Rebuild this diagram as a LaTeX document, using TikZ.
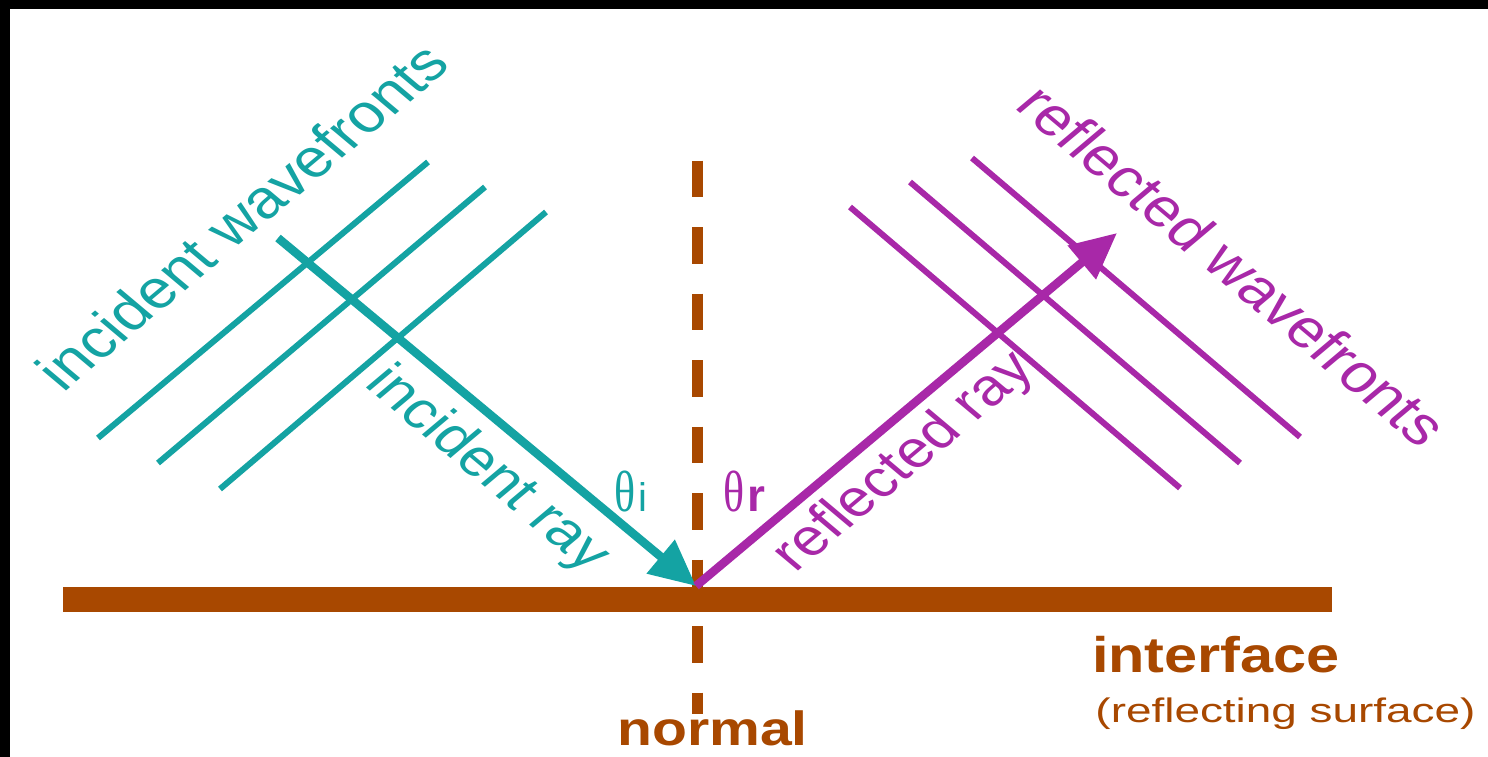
\documentclass[tikz,border=0pt]{standalone}
\usepackage{fontspec}
\setmainfont{Liberation Sans}
\newfontfamily\greekserif{Liberation Serif}
\usetikzlibrary{arrows.meta}
\definecolor{tealc}{RGB}{20,163,163}
\definecolor{purpc}{RGB}{168,40,168}
\definecolor{brnc}{RGB}{168,72,0}
\tikzset{
  lbl/.style={inner sep=0pt, outer sep=0pt, xscale=1.19},
  wave/.style={line width=6pt},
  rayline/.style={line width=8.5pt},
  normalline/.style={line width=11.5pt, brnc, dash pattern=on 36.5pt off 30pt},
  rayhead/.style={-{Triangle[length=46pt,width=42pt]}},
}
\begin{document}
\begin{tikzpicture}[x=1pt,y=-1pt]
\useasboundingbox (0,0) rectangle (1488,757);
\fill[black] (0,0) rectangle (1488,757);
\fill[white] (10,9) rectangle (1488,757);

% normal
\coordinate (Ntop) at (697.5,160.5);
\coordinate (Nbot) at (697.5,714);
\draw[normalline] (Ntop) -- (Nbot);

% interface bar
\fill[brnc] (63,587) rectangle (1332,612);

% incident wavefronts
\draw[wave, tealc] (428,162) -- (98,438);
\draw[wave, tealc] (485,187) -- (158,463);
\draw[wave, tealc] (546,212) -- (220,489);

% rays
\coordinate (IS) at (278,238);
\coordinate (P) at (696,586);
\coordinate (RT) at (1117,233);
\draw[rayline, tealc, rayhead] (IS) -- (P);
\draw[rayline, purpc, rayhead] (P) -- (RT);

% reflected wavefronts
\draw[wave, purpc] (850,207) -- (1180,488);
\draw[wave, purpc] (910,182) -- (1240,463);
\draw[wave, purpc] (972,158) -- (1300,437);

% labels
\node[lbl, rotate=45, text=tealc, font=\fontsize{54}{60}\selectfont] (incw) at (242,216) {incident wavefronts};
\node[lbl, rotate=-45, text=tealc, font=\fontsize{52}{60}\selectfont] (incr) at (487,470) {incident ray};
\node[lbl, rotate=45, text=purpc, font=\fontsize{52}{60}\selectfont] (refr) at (905,463) {reflected ray};
\node[lbl, rotate=-45, text=purpc, font=\fontsize{54}{60}\selectfont] (refw) at (1233,265) {reflected wavefronts};

\node[inner sep=0pt, anchor=base west, text=tealc, font=\fontsize{40}{46}\selectfont] (thi) at (614,511) {{\greekserif\scalebox{1.1}[1.45]{θ}}\kern3pt i};
\node[inner sep=0pt, anchor=base west, text=purpc, font=\fontsize{40}{46}\selectfont] (thr) at (723,511) {{\greekserif\scalebox{1.1}[1.45]{θ}}\kern3pt{\fontsize{46}{50}\selectfont\bfseries r}};

\node[lbl, anchor=base, text=brnc, font=\fontsize{48}{54}\selectfont\bfseries] (norm) at (712.5,745) {normal};
\node[lbl, anchor=base, text=brnc, font=\fontsize{50}{56}\selectfont\bfseries] (intf) at (1216,672) {interface};
\node[inner sep=0pt, xscale=1.35, anchor=base, text=brnc, font=\fontsize{34}{40}\selectfont] (refs) at (1285.5,722) {(reflecting surface)};
\end{tikzpicture}
\end{document}
